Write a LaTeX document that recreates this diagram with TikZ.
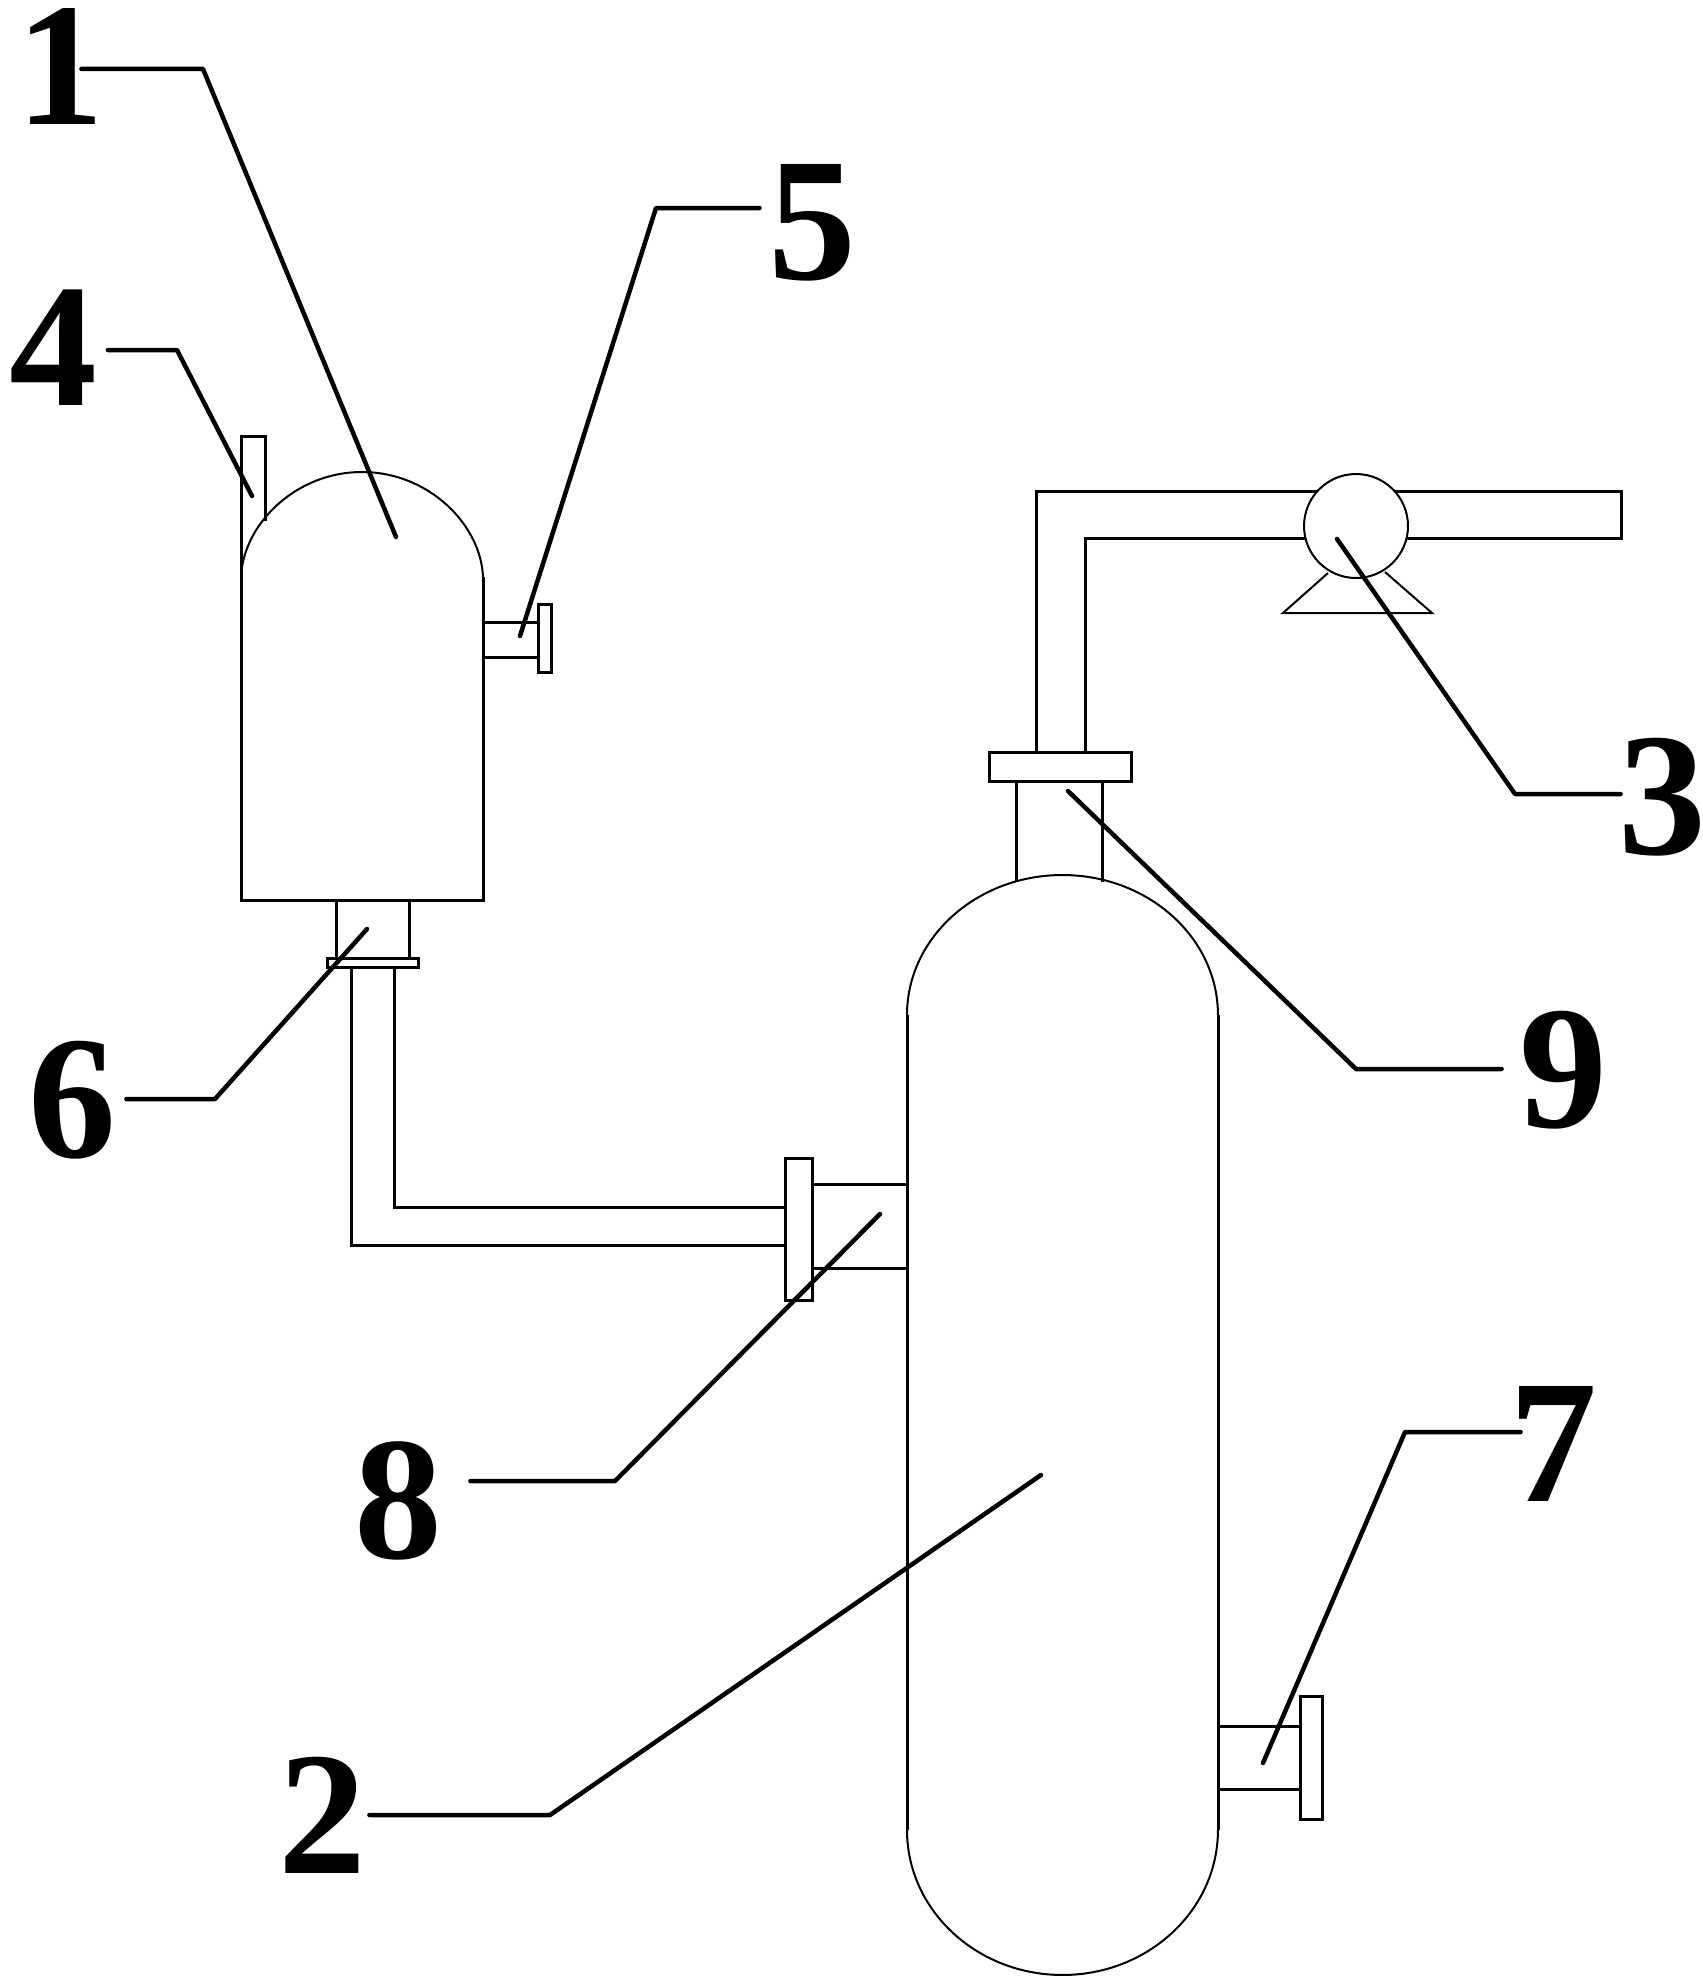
\documentclass[tikz,border=0pt]{standalone}
\usepackage{fontspec}
\setmainfont{Liberation Serif}
\tikzset{
	vessel/.style={line width=0.06cm, line join=miter},
	dome/.style={line width=0.04cm},
	leader/.style={line width=0.09cm, line cap=round, line join=round},
	numlabel/.style={inner ysep=0pt, inner xsep=0.07cm, outer sep=0pt, font=\fontsize{100pt}{100pt}\selectfont\bfseries}
}
\begin{document}
\begin{tikzpicture}[x=0.02cm, y=-0.02cm]
		\path[fill=white, use as bounding box] (0,0) rectangle (1703,1984);
		% small tank with vent and side nozzle
		\draw[vessel] (241,577) -- (241,900) -- (483,900) -- (483,577);
		\draw[dome] (241,577) .. controls (243,525) and (295,472) .. (362,472) .. controls (429,472) and (481,525) .. (483,577);
		\draw[vessel] (241,577) -- (241,436) -- (265,436) -- (265,521);
		\draw[vessel] (483,622) -- (538,622);
		\draw[vessel] (483,657) -- (538,657);
		\draw[vessel] (538,604) rectangle (551,672);
		% outlet and pipe down to the big tank
		\draw[vessel] (336,900) -- (336,958);
		\draw[vessel] (409,900) -- (409,958);
		\draw[vessel] (327,958) rectangle (418,967);
		\draw[vessel] (351,967) -- (351,1245) -- (785,1245);
		\draw[vessel] (394,967) -- (394,1207) -- (785,1207);
		\draw[vessel] (785,1158) rectangle (812,1300);
		\draw[vessel] (812,1184) -- (907,1184);
		\draw[vessel] (812,1268) -- (907,1268);
		% big tank
		\draw[vessel] (907,1015) -- (907,1830);
		\draw[vessel] (1218,1015) -- (1218,1830);
		\draw[dome] (907,1015) arc[start angle=180, end angle=0, x radius=3.11cm, y radius=2.8cm];
		\draw[dome] (907,1830) arc[start angle=180, end angle=360, x radius=3.11cm, y radius=2.9cm];
		\draw[vessel] (1218,1726) -- (1300,1726);
		\draw[vessel] (1218,1789) -- (1300,1789);
		\draw[vessel] (1300,1696) rectangle (1322,1819);
		% top neck, pipe and pump
		\draw[vessel] (1016,781) -- (1016,882);
		\draw[vessel] (1102,781) -- (1102,882);
		\draw[vessel] (989,752) rectangle (1131,781);
		\draw[vessel] (1036,752) -- (1036,491) -- (1621,491) -- (1621,538) -- (1085,538) -- (1085,752);
		\draw[dome] (1328,573) -- (1283,613) -- (1432,613) -- (1385,572);
		\node[draw, dome, circle, fill=white, inner sep=0pt, minimum size=2.08cm] (pump) at (1356,526) {};
		% numbers
		\node[numlabel] (lab1) at (60,67) {1};
		\node[numlabel] (lab2) at (322,1815) {2};
		\node[numlabel] (lab3) at (1662,797) {3};
		\node[numlabel] (lab4) at (53,348) {4};
		\node[numlabel] (lab5) at (812,223) {5};
		\node[numlabel] (lab6) at (72,1100) {6};
		\node[numlabel] (lab7) at (1553,1444) {7};
		\node[numlabel] (lab8) at (398,1501) {8};
		\node[numlabel] (lab9) at (1563,1070) {9};
		% bends and tips of the leader lines
		\coordinate (bend1) at (203,69);
		\coordinate (tip1) at (396,537);
		\coordinate (bend2) at (550,1815);
		\coordinate (tip2) at (1041,1475);
		\coordinate (bend3) at (1515,794);
		\coordinate (tip3) at (1337,539);
		\coordinate (bend4) at (177,350);
		\coordinate (tip4) at (252,496);
		\coordinate (bend5) at (656,208);
		\coordinate (tip5) at (520,636);
		\coordinate (bend6) at (215,1099);
		\coordinate (tip6) at (367,929);
		\coordinate (bend7) at (1405,1432);
		\coordinate (tip7) at (1263,1763);
		\coordinate (bend8) at (615,1481);
		\coordinate (tip8) at (880,1214);
		\coordinate (bend9) at (1356,1069);
		\coordinate (tip9) at (1068,791);
		\draw[leader] ([xshift=-0.52cm]lab1.east |- bend1) -- (bend1) -- (tip1);
		\draw[leader] (lab2.east |- bend2) -- (bend2) -- (tip2);
		\draw[leader] ([xshift=0.12cm]lab3.west |- bend3) -- (bend3) -- (tip3);
		\draw[leader] ([xshift=0.15cm]lab4.east |- bend4) -- (bend4) -- (tip4);
		\draw[leader] ([xshift=-0.1cm]lab5.west |- bend5) -- (bend5) -- (tip5);
		\draw[leader] ([xshift=0.14cm]lab6.east |- bend6) -- (bend6) -- (tip6);
		\draw[leader] ([xshift=0.3cm]lab7.west |- bend7) -- (bend7) -- (tip7);
		\draw[leader] ([xshift=0.5cm]lab8.east |- bend8) -- (bend8) -- (tip8);
		\draw[leader] ([xshift=-0.28cm]lab9.west |- bend9) -- (bend9) -- (tip9);
	\end{tikzpicture}
\end{document}
